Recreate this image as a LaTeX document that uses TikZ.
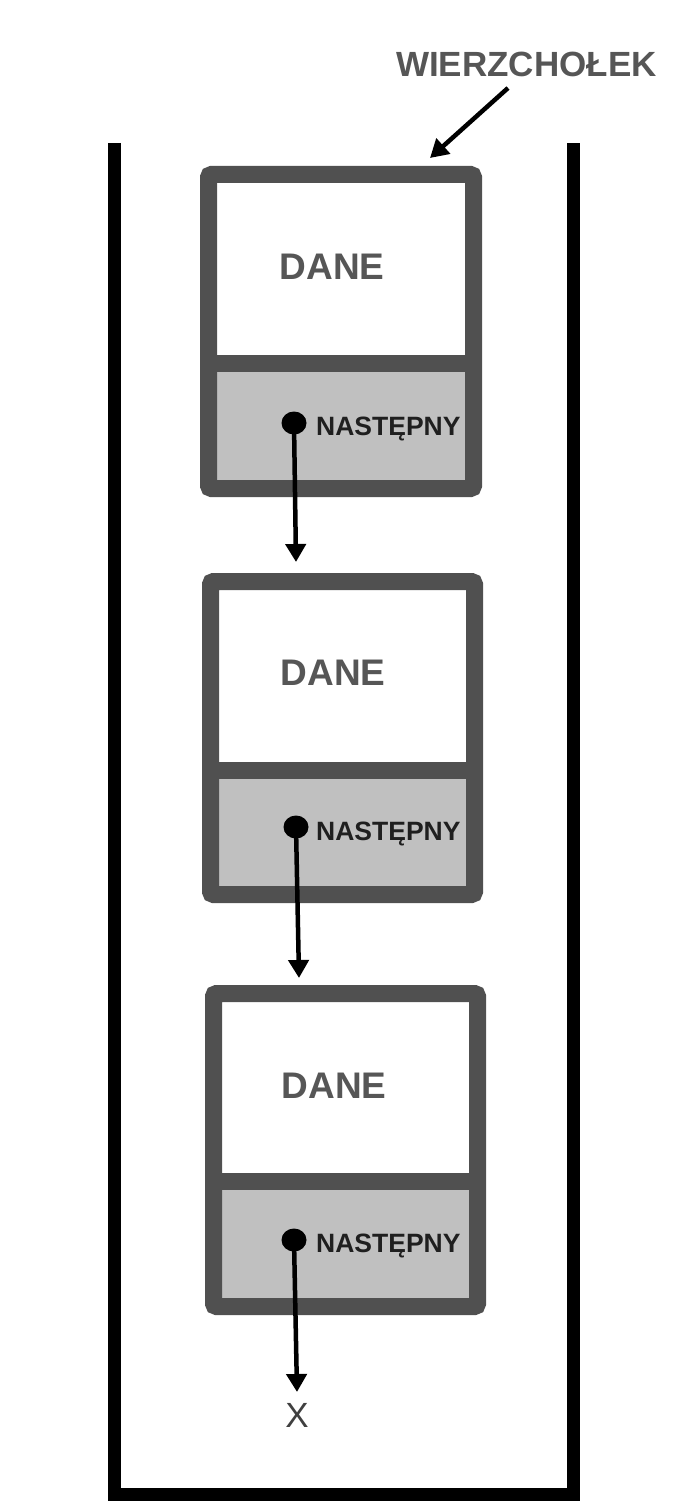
\documentclass[tikz,border=0pt]{standalone}
\usepackage{fontspec}
\setmainfont{Liberation Sans}
\usetikzlibrary{arrows.meta}
\usetikzlibrary{shapes.geometric}
\definecolor{boxgray}{HTML}{505050}
\definecolor{fillgray}{HTML}{C0C0C0}
\definecolor{txtgray}{HTML}{565656}
\tikzset{
  container/.style={line width=13pt, black, line join=miter},
  boxframe/.style={draw=boxgray, line width=17pt, rounded corners=3pt},
  divider/.style={draw=boxgray, line width=17pt},
  lower/.style={fill=fillgray, draw=none},
  datalabel/.style={font=\fontsize{37pt}{37pt}\selectfont\bfseries, text=txtgray, inner sep=0pt, anchor=base},
  nextlabel/.style={font=\fontsize{26.5pt}{26.5pt}\selectfont\bfseries, text=black!88, inner sep=0pt, anchor=base west},
  toplabel/.style={font=\fontsize{35pt}{35pt}\selectfont\bfseries, text=txtgray, inner sep=0pt, anchor=base west},
  nulllabel/.style={font=\fontsize{35pt}{35pt}\selectfont, text=black!75, inner sep=0pt, anchor=base},
  dot/.style={ellipse, fill=black, inner sep=0pt, minimum width=25pt, minimum height=23pt},
  link/.style={line width=4.5pt, black, -{Triangle[length=18pt, width=20pt]}},
}
\begin{document}
\begin{tikzpicture}[x=1pt, y=-1pt]
\useasboundingbox (0,0) rectangle (688,1511);
% container
\draw[container] (114,143) -- (114,1494) -- (573,1494) -- (573,143);
% box 1
\fill[lower] (208.5,363) rectangle (473.5,488.5);
\draw[boxframe] (208.5,174.5) rectangle (473.5,488.5);
\draw[divider] (208.5,363) -- (473.5,363);
% box 2
\fill[lower] (210.5,770) rectangle (474.5,894.5);
\draw[boxframe] (210.5,581.5) rectangle (474.5,894.5);
\draw[divider] (210.5,770) -- (474.5,770);
% box 3
\fill[lower] (213.5,1181) rectangle (477.5,1306.5);
\draw[boxframe] (213.5,993.5) rectangle (477.5,1306.5);
\draw[divider] (213.5,1181) -- (477.5,1181);
% labels
\node[datalabel] (d1) at (332,280) {DANE};
\node[datalabel] (d2) at (333,685) {DANE};
\node[datalabel] (d3) at (334,1098) {DANE};
\node[nextlabel] (n1) at (316,435) {NASTĘPNY};
\node[nextlabel] (n2) at (316,840) {NASTĘPNY};
\node[nextlabel] (n3) at (316,1252) {NASTĘPNY};
\node[toplabel] (top) at (396,77) {WIERZCHOŁEK};
\node[nulllabel] (x) at (297,1427) {X};
% dots
\node[dot] (p1) at (294,423) {};
\node[dot] (p2) at (296,827) {};
\node[dot] (p3) at (294,1240) {};
% arrow ends
\coordinate (e1) at (296,562);
\coordinate (e2) at (299,978);
\coordinate (e3) at (297,1392);
\coordinate (ts) at (508,88);
\coordinate (te) at (430,158);
\draw[link] (p1.center) -- (e1);
\draw[link] (p2.center) -- (e2);
\draw[link] (p3.center) -- (e3);
\draw[link] (ts) -- (te);
\end{tikzpicture}
\end{document}
